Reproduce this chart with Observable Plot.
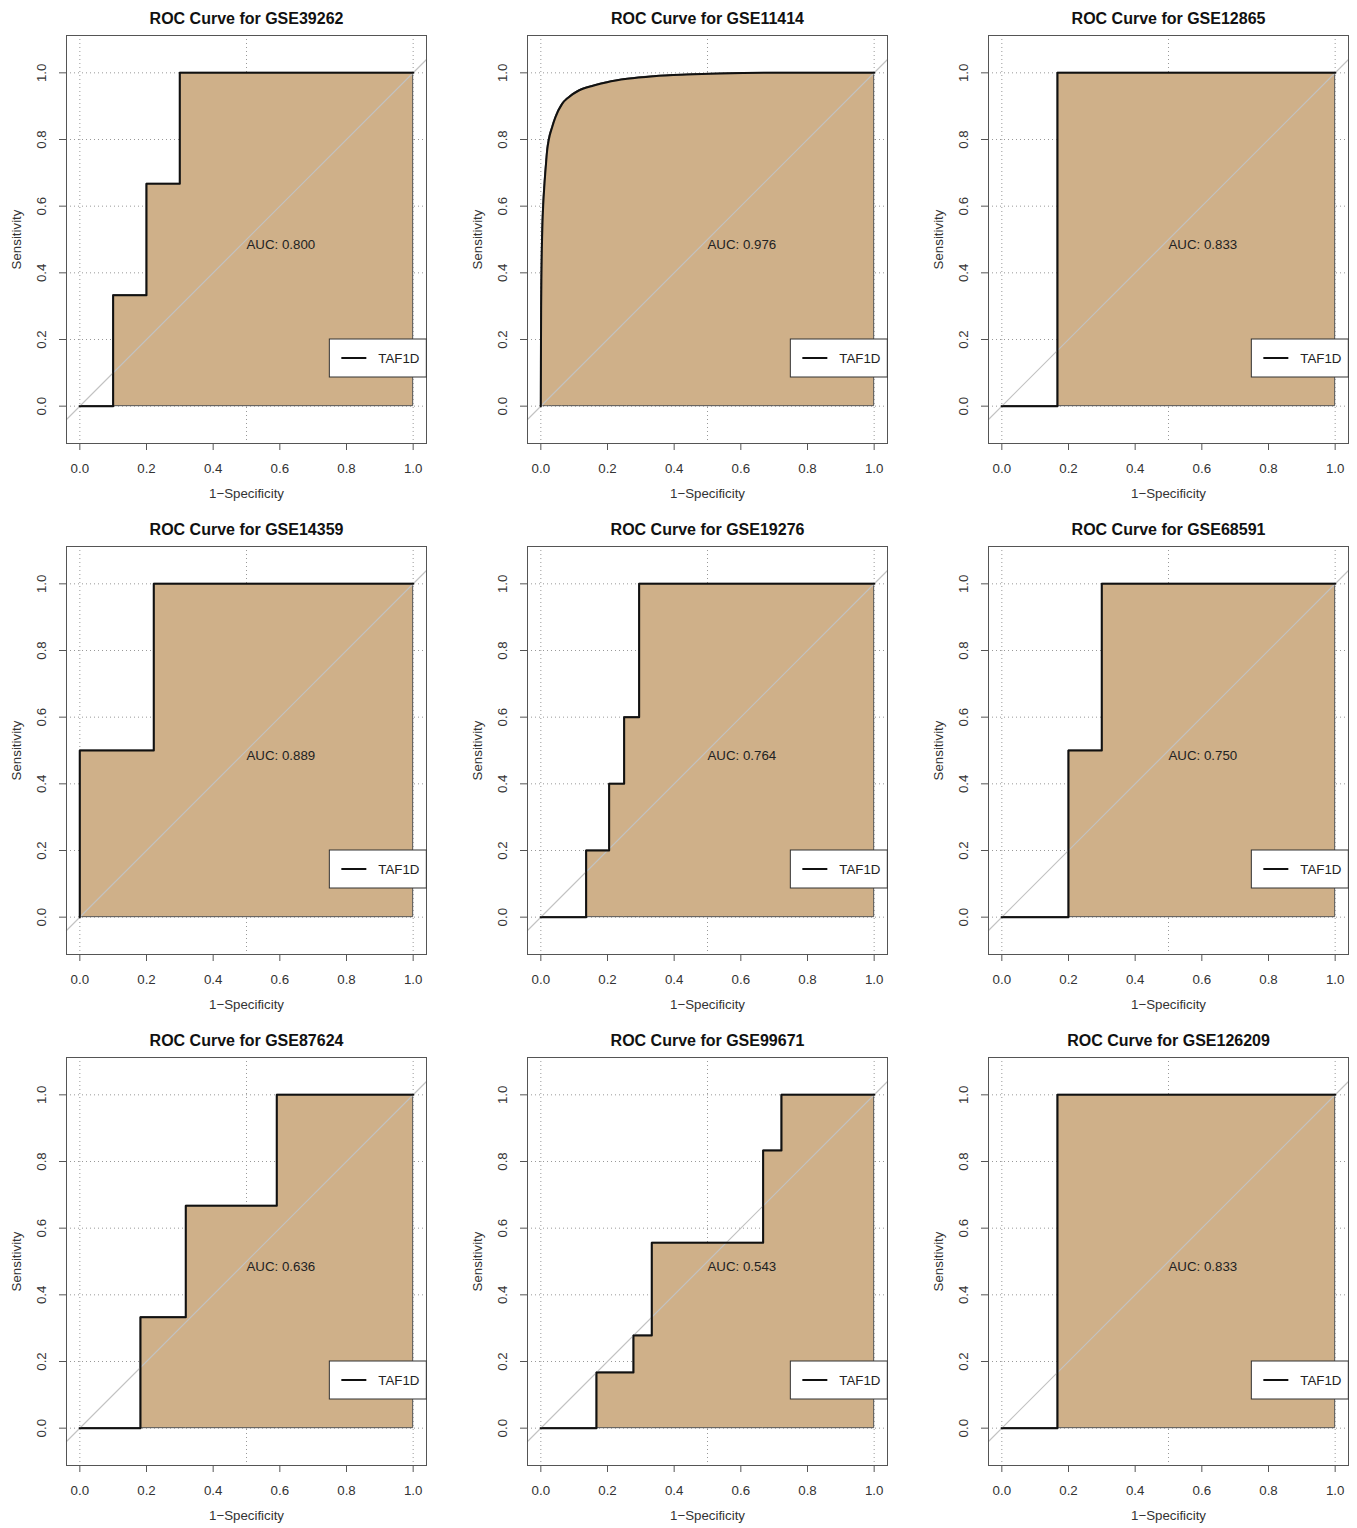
<!DOCTYPE html>
<html>
<head>
<meta charset="utf-8">
<script src="https://cdn.jsdelivr.net/npm/d3@7"></script>
<script src="https://cdn.jsdelivr.net/npm/@observablehq/plot@0.6"></script>
<style>
  html, body { margin: 0; padding: 0; background: #fff; }
  #grid { position: relative; width: 1357px; height: 1528px; overflow: hidden; }
  #grid svg { position: absolute; }
</style>
</head>
<body>
<div id="grid"></div>
<script>
// GEO series, one ROC panel each, in row-major order
const datasets = ["GSE39262", "GSE11414", "GSE12865", "GSE14359", "GSE19276", "GSE68591", "GSE87624", "GSE99671", "GSE126209"];
const aucValues = [0.800, 0.976, 0.833, 0.889, 0.764, 0.750, 0.636, 0.543, 0.833];
const markerName = "TAF1D";

// ROC vertices: 1 − specificity (fpr) and sensitivity (tpr)
const fpr_GSE39262 = [0, 0.1, 0.1, 0.2, 0.2, 0.3, 0.3, 1];
const tpr_GSE39262 = [0, 0, 0.333, 0.333, 0.667, 0.667, 1, 1];

// smoothed curve
const fpr_GSE11414 = [0, 0.0005, 0.001, 0.002, 0.003, 0.005, 0.007, 0.011, 0.015, 0.019, 0.024, 0.034, 0.044, 0.064, 0.084, 0.114, 0.159, 0.199, 0.259, 0.339, 0.439, 0.539, 0.7, 1];
const tpr_GSE11414 = [0, 0.2, 0.3, 0.4, 0.467, 0.55, 0.6, 0.667, 0.72, 0.767, 0.8, 0.837, 0.867, 0.907, 0.927, 0.947, 0.962, 0.972, 0.982, 0.99, 0.995, 0.998, 1, 1];

const fpr_GSE12865 = [0, 0.167, 0.167, 1];
const tpr_GSE12865 = [0, 0, 1, 1];

const fpr_GSE14359 = [0, 0, 0.222, 0.222, 1];
const tpr_GSE14359 = [0, 0.5, 0.5, 1, 1];

const fpr_GSE19276 = [0, 0.136, 0.136, 0.205, 0.205, 0.25, 0.25, 0.295, 0.295, 1];
const tpr_GSE19276 = [0, 0, 0.2, 0.2, 0.4, 0.4, 0.6, 0.6, 1, 1];

const fpr_GSE68591 = [0, 0.2, 0.2, 0.3, 0.3, 1];
const tpr_GSE68591 = [0, 0, 0.5, 0.5, 1, 1];

const fpr_GSE87624 = [0, 0.182, 0.182, 0.318, 0.318, 0.591, 0.591, 1];
const tpr_GSE87624 = [0, 0, 0.333, 0.333, 0.667, 0.667, 1, 1];

const fpr_GSE99671 = [0, 0.167, 0.167, 0.278, 0.278, 0.333, 0.333, 0.667, 0.667, 0.722, 0.722, 1];
const tpr_GSE99671 = [0, 0, 0.167, 0.167, 0.278, 0.278, 0.556, 0.556, 0.833, 0.833, 1, 1];

const fpr_GSE126209 = [0, 0.167, 0.167, 1];
const tpr_GSE126209 = [0, 0, 1, 1];

const smoothedSets = ["GSE11414"];

// axis ticks and grid positions
const xTicks = [0, 0.2, 0.4, 0.6, 0.8, 1.0];
const yTicks = [0, 0.2, 0.4, 0.6, 0.8, 1.0];
const xGridLines = [0, 0.5, 1];
const yGridLines = [0, 0.2, 0.4, 0.6, 0.8, 1.0];

const rocFPR = {
  GSE39262: fpr_GSE39262, GSE11414: fpr_GSE11414, GSE12865: fpr_GSE12865,
  GSE14359: fpr_GSE14359, GSE19276: fpr_GSE19276, GSE68591: fpr_GSE68591,
  GSE87624: fpr_GSE87624, GSE99671: fpr_GSE99671, GSE126209: fpr_GSE126209
};
const rocTPR = {
  GSE39262: tpr_GSE39262, GSE11414: tpr_GSE11414, GSE12865: tpr_GSE12865,
  GSE14359: tpr_GSE14359, GSE19276: tpr_GSE19276, GSE68591: tpr_GSE68591,
  GSE87624: tpr_GSE87624, GSE99671: tpr_GSE99671, GSE126209: tpr_GSE126209
};

// panel layout
const panelW = 461, panelH = 511;
const xDomain = [-0.04, 1.04];
const yDomain = [-0.112, 1.112];
const FONT = "'Liberation Sans', Arial, Helvetica, sans-serif";
const FILL = "#CFB089";

// boxed legend anchored (top-left) at data point (0.75, 0.2)
function legendMark(label) {
  return (index, scales) => {
    const left = scales.x(0.75), top = scales.y(0.2);
    const w = 97, h = 38;
    const g = d3.create("svg:g");
    g.append("rect")
      .attr("x", left).attr("y", top).attr("width", w).attr("height", h)
      .attr("fill", "#fff").attr("stroke", "#333").attr("stroke-width", 1);
    g.append("line")
      .attr("x1", left + 12).attr("x2", left + 37)
      .attr("y1", top + h / 2).attr("y2", top + h / 2)
      .attr("stroke", "#111").attr("stroke-width", 2);
    g.append("text")
      .attr("x", left + 49).attr("y", top + h / 2).attr("dy", "0.35em")
      .attr("text-anchor", "start")
      .attr("fill", "#222").attr("font-size", 13.3).attr("font-family", FONT)
      .text(label);
    return g.node();
  };
}

function rocPanel(name, auc) {
  const pts = rocFPR[name].map((f, i) => ({fpr: f, tpr: rocTPR[name][i]}));
  const curve = smoothedSets.includes(name) ? "monotone-x" : "linear";
  const diagonal = xDomain.map(v => ({fpr: v, tpr: v}));
  return Plot.plot({
    width: panelW,
    height: panelH,
    marginLeft: 66,
    marginRight: 35,
    marginTop: 35,
    marginBottom: 68,
    x: {domain: xDomain},
    y: {domain: yDomain},
    style: {fontFamily: FONT, fontSize: "13.3px", color: "#222", background: "transparent"},
    marks: [
      Plot.gridX(xGridLines, {stroke: "#999", strokeOpacity: 1, strokeDasharray: "1,3"}),
      Plot.gridY(yGridLines, {stroke: "#999", strokeOpacity: 1, strokeDasharray: "1,3"}),
      Plot.areaY(pts, {x: "fpr", y1: 0, y2: "tpr", curve, fill: FILL, stroke: "#555", strokeWidth: 1}),
      Plot.line(diagonal, {x: "fpr", y: "tpr", stroke: "#c2c2c2", strokeWidth: 1.2}),
      Plot.line(pts, {x: "fpr", y: "tpr", curve, stroke: "#111", strokeWidth: 2}),
      Plot.text([auc], {x: 0.5, y: 0.5, text: d => `AUC: ${d.toFixed(3)}`, textAnchor: "start", lineAnchor: "top", fill: "#222"}),
      Plot.frame({stroke: "#555"}),
      Plot.axisX(xTicks, {tickSize: 7, tickPadding: 13, tickFormat: d => d.toFixed(1), label: null, stroke: "#555", fill: "#333"}),
      Plot.axisY(yTicks, {tickSize: 7, tickPadding: 14, tickRotate: -90, tickFormat: d => d.toFixed(1), label: null, stroke: "#555", fill: "#333"}),
      Plot.text([`ROC Curve for ${name}`], {frameAnchor: "top", dy: -11.7, lineAnchor: "bottom", fontWeight: "bold", fontSize: 16, fill: "#111"}),
      Plot.text(["1\u2212Specificity"], {frameAnchor: "bottom", dy: 54, lineAnchor: "bottom", fill: "#333"}),
      Plot.text(["Sensitivity"], {frameAnchor: "left", dx: -45.5, rotate: -90, lineAnchor: "bottom", textAnchor: "middle", fill: "#333"}),
      legendMark(markerName)
    ]
  });
}

const grid = document.getElementById("grid");
datasets.forEach((name, i) => {
  const svg = rocPanel(name, aucValues[i]);
  svg.style.left = `${(i % 3) * panelW}px`;
  svg.style.top = `${Math.floor(i / 3) * panelH}px`;
  grid.appendChild(svg);
});
</script>
</body>
</html>
